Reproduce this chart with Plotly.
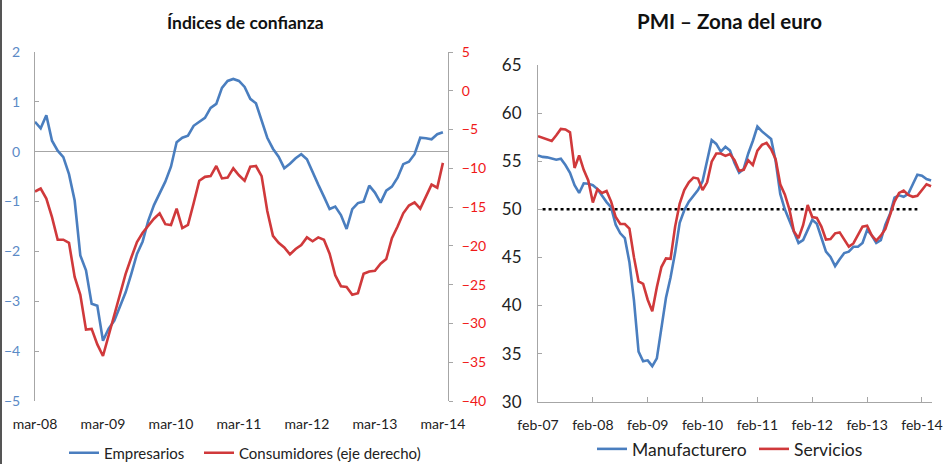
import plotly.graph_objects as go

# ---------------- data ----------------
conf_tick_labels = ["mar-08", "mar-09", "mar-10", "mar-11", "mar-12", "mar-13", "mar-14"]
empresarios = [0.6, 0.47, 0.73, 0.22, 0.02, -0.11, -0.45, -0.98, -2.08, -2.38, -3.05, -3.09, -3.79,
               -3.55, -3.39, -3.1, -2.82, -2.45, -2.05, -1.8, -1.38, -1.07, -0.85, -0.6, -0.3,
               0.19, 0.28, 0.32, 0.52, 0.6, 0.68, 0.88, 0.96, 1.28, 1.42, 1.46, 1.42,
               1.3, 1.06, 0.97, 0.62, 0.28, 0.06, -0.1, -0.33, -0.24, -0.13, -0.05, -0.15,
               -0.42, -0.66, -0.9, -1.15, -1.1, -1.27, -1.55, -1.15, -1.03, -1.0, -0.68, -0.82,
               -1.02, -0.78, -0.7, -0.52, -0.25, -0.2, -0.05, 0.28, 0.27, 0.25, 0.35, 0.39]
consumidores = [-13.0, -12.6, -13.9, -16.3, -19.2, -19.2, -19.6, -24.0, -26.3, -30.8, -30.7, -32.7, -34.2,
                -31.5, -28.8, -26.0, -23.6, -21.5, -19.5, -18.3, -17.4, -16.5, -15.8, -17.2, -17.3,
                -15.2, -17.7, -17.3, -14.5, -11.6, -11.1, -11.0, -9.7, -11.3, -11.2, -10.0, -10.9,
                -11.6, -9.8, -9.7, -11.0, -15.5, -18.7, -19.6, -20.2, -21.1, -20.4, -19.9, -18.9,
                -19.4, -18.9, -19.2, -21.0, -23.8, -25.2, -25.3, -26.3, -26.1, -23.6, -23.3, -23.2,
                -22.3, -21.7, -19.0, -17.5, -15.8, -14.8, -14.4, -15.2, -13.7, -12.1, -12.5, -9.3]

pmi_tick_labels = ["feb-07", "feb-08", "feb-09", "feb-10", "feb-11", "feb-12", "feb-13", "feb-14"]
manufacturero = [55.6, 55.45, 55.4, 55.3, 55.15, 55.25, 54.6, 53.8, 52.5, 51.7, 52.7, 52.65,
                 52.5, 52.1, 51.4, 50.75, 50.2, 48.4, 47.5, 47.0, 44.5, 40.5, 35.2, 34.2,
                 34.3, 33.7, 34.5, 37.8, 40.8, 42.9, 45.5, 48.6, 49.9, 50.8, 51.4, 52.0,
                 52.9, 55.2, 57.2, 56.8, 56.0, 56.5, 56.1, 54.8, 53.8, 54.2, 55.8, 57.1,
                 58.6, 58.1, 57.7, 57.3, 55.0, 51.6, 50.0, 48.8, 47.6, 46.5, 46.8, 47.8,
                 48.9, 48.5, 47.0, 45.6, 45.05, 44.1, 44.8, 45.45, 45.6, 46.1, 46.1, 46.5,
                 47.85, 47.3, 46.5, 46.8, 48.4, 49.5, 51.2, 51.45, 51.3, 51.6, 52.6, 53.6,
                 53.5, 53.15, 53.0]
servicios = [57.6, 57.45, 57.25, 57.1, 57.7, 58.35, 58.3, 58.0, 54.3, 55.6, 54.1, 53.0,
             50.7, 52.1, 51.7, 51.9, 50.8, 49.2, 48.47, 48.47, 48.0, 45.0, 42.5, 42.25,
             40.6, 39.4, 41.9, 44.0, 44.9, 44.85, 48.2, 50.6, 52.0, 52.8, 53.3, 53.2,
             52.0, 52.8, 54.95, 55.8, 55.8, 55.55, 55.75, 55.1, 54.0, 54.1, 55.1, 54.6,
             56.1, 56.7, 56.9, 56.25, 55.2, 52.6, 51.55, 50.0, 47.7, 47.0, 48.35, 50.45,
             49.2, 49.1, 48.2, 46.86, 46.9, 47.5, 47.6, 46.8, 46.12, 46.45, 47.4, 48.2,
             48.3, 47.3, 46.75, 47.25, 47.95, 49.3, 50.8, 51.7, 51.95, 51.5, 51.3, 51.4,
             52.0, 52.6, 52.4]
umbral_pmi = 50

# ---------------- styling ----------------
W, H = 950, 464
BLUE = "#4A7EBF"
RED = "#D0393B"
FONT = "Lato"

def fx(px):
    return px / W

def fy(py):
    return 1 - py / H

x_conf = list(range(len(empresarios)))
x_pmi = list(range(len(manufacturero)))

fig = go.Figure()

fig.add_trace(go.Scatter(x=x_conf, y=empresarios, name="Empresarios", mode="lines",
                         line=dict(color=BLUE, width=2.6), xaxis="x", yaxis="y", legend="legend"))
fig.add_trace(go.Scatter(x=x_conf, y=consumidores, name="Consumidores (eje derecho)", mode="lines",
                         line=dict(color=RED, width=2.6), xaxis="x", yaxis="y2", legend="legend3"))

fig.add_trace(go.Scatter(x=[1, len(manufacturero) - 4], y=[umbral_pmi, umbral_pmi], mode="lines",
                         line=dict(color="black", width=2.5, dash="dot"), showlegend=False,
                         xaxis="x3", yaxis="y3", hoverinfo="skip"))
fig.add_trace(go.Scatter(x=x_pmi, y=manufacturero, name="Manufacturero", mode="lines",
                         line=dict(color=BLUE, width=2.6), xaxis="x3", yaxis="y3", legend="legend2"))
fig.add_trace(go.Scatter(x=x_pmi, y=servicios, name="Servicios", mode="lines",
                         line=dict(color=RED, width=2.6), xaxis="x3", yaxis="y3", legend="legend4"))

axis_gray = "#A6A6A6"

def leg(xpx, ypx, size):
    return dict(orientation="h", x=fx(xpx), y=fy(ypx), xanchor="left", yanchor="middle",
                font=dict(size=size, color="#222222"), bgcolor="rgba(0,0,0,0)", itemwidth=30)

fig.update_layout(
    width=W, height=H,
    margin=dict(l=0, r=0, t=0, b=0, autoexpand=False),
    paper_bgcolor="white", plot_bgcolor="rgba(0,0,0,0)",
    font=dict(family=FONT, color="#222222"),
    xaxis=dict(domain=[fx(35), fx(448)], range=[0, 72.9], anchor="y", automargin=False,
               tickvals=list(range(0, 73, 12)), ticktext=conf_tick_labels,
               showline=False, showgrid=False, zeroline=False, ticks="",
               ticklabelstandoff=13, tickfont=dict(size=14, color="#222222")),
    xaxis2=dict(overlaying="x", range=[0, 72.9], anchor="free", position=fy(151), automargin=False,
                tickvals=list(range(0, 73, 12)), showticklabels=False,
                showline=False, showgrid=False, zeroline=False,
                ticks="inside", ticklen=5, tickcolor=axis_gray),
    yaxis=dict(domain=[fy(401), fy(52)], range=[-5, 2], dtick=1, anchor="x", automargin=False,
               showline=True, linecolor=axis_gray, linewidth=1, showgrid=False,
               zeroline=True, zerolinecolor=axis_gray, zerolinewidth=1,
               ticks="inside", ticklen=4, tickcolor=axis_gray,
               ticklabelstandoff=11, tickfont=dict(size=14, color="#5B8AC6")),
    yaxis2=dict(overlaying="y", side="right", anchor="x", range=[-40, 5], dtick=5, automargin=False,
                showline=True, linecolor=axis_gray, linewidth=1, showgrid=False, zeroline=False,
                ticks="outside", ticklen=4, tickcolor=axis_gray,
                ticklabelstandoff=6, tickfont=dict(size=14, color="#F01818")),
    xaxis3=dict(domain=[fx(538), fx(932)], range=[0, 86.2], anchor="y3", automargin=False,
                tickvals=list(range(0, 85, 12)), ticktext=pmi_tick_labels,
                showline=True, linecolor=axis_gray, linewidth=1, showgrid=False, zeroline=False,
                ticks="inside", ticklen=5, tickcolor=axis_gray,
                ticklabelstandoff=10, tickfont=dict(size=14, color="#222222")),
    yaxis3=dict(domain=[fy(401.7), fy(65)], range=[30, 65], dtick=5, anchor="x3", automargin=False,
                showline=True, linecolor=axis_gray, linewidth=1, showgrid=False, zeroline=False,
                ticks="inside", ticklen=4, tickcolor=axis_gray,
                ticklabelstandoff=12, tickfont=dict(size=17, color="#222222")),
    legend=leg(64, 453, 15),
    legend3=leg(199, 453, 15),
    legend2=leg(592, 449, 17.5),
    legend4=leg(754, 449, 17.5),
    annotations=[
        dict(text="<b>Índices de confianza</b>", x=fx(245), y=fy(22), xref="paper", yref="paper",
             xanchor="center", yanchor="middle",
             showarrow=False, font=dict(size=17.5, color="#111111", family=FONT)),
        dict(text="<b>PMI – Zona del euro</b>", x=fx(729), y=fy(21), xref="paper", yref="paper",
             xanchor="center", yanchor="middle",
             showarrow=False, font=dict(size=20.5, color="#111111", family=FONT)),
    ],
    shapes=[
        dict(type="line", xref="paper", yref="paper", x0=fx(1), x1=fx(1), y0=0, y1=1,
             line=dict(color="#555555", width=2)),
    ],
    showlegend=True,
)

fig.write_html("out.html", config={"displayModeBar": False},
               post_script="document.body.style.margin='0';document.body.style.padding='0';"
                           "document.body.style.overflow='hidden';")
